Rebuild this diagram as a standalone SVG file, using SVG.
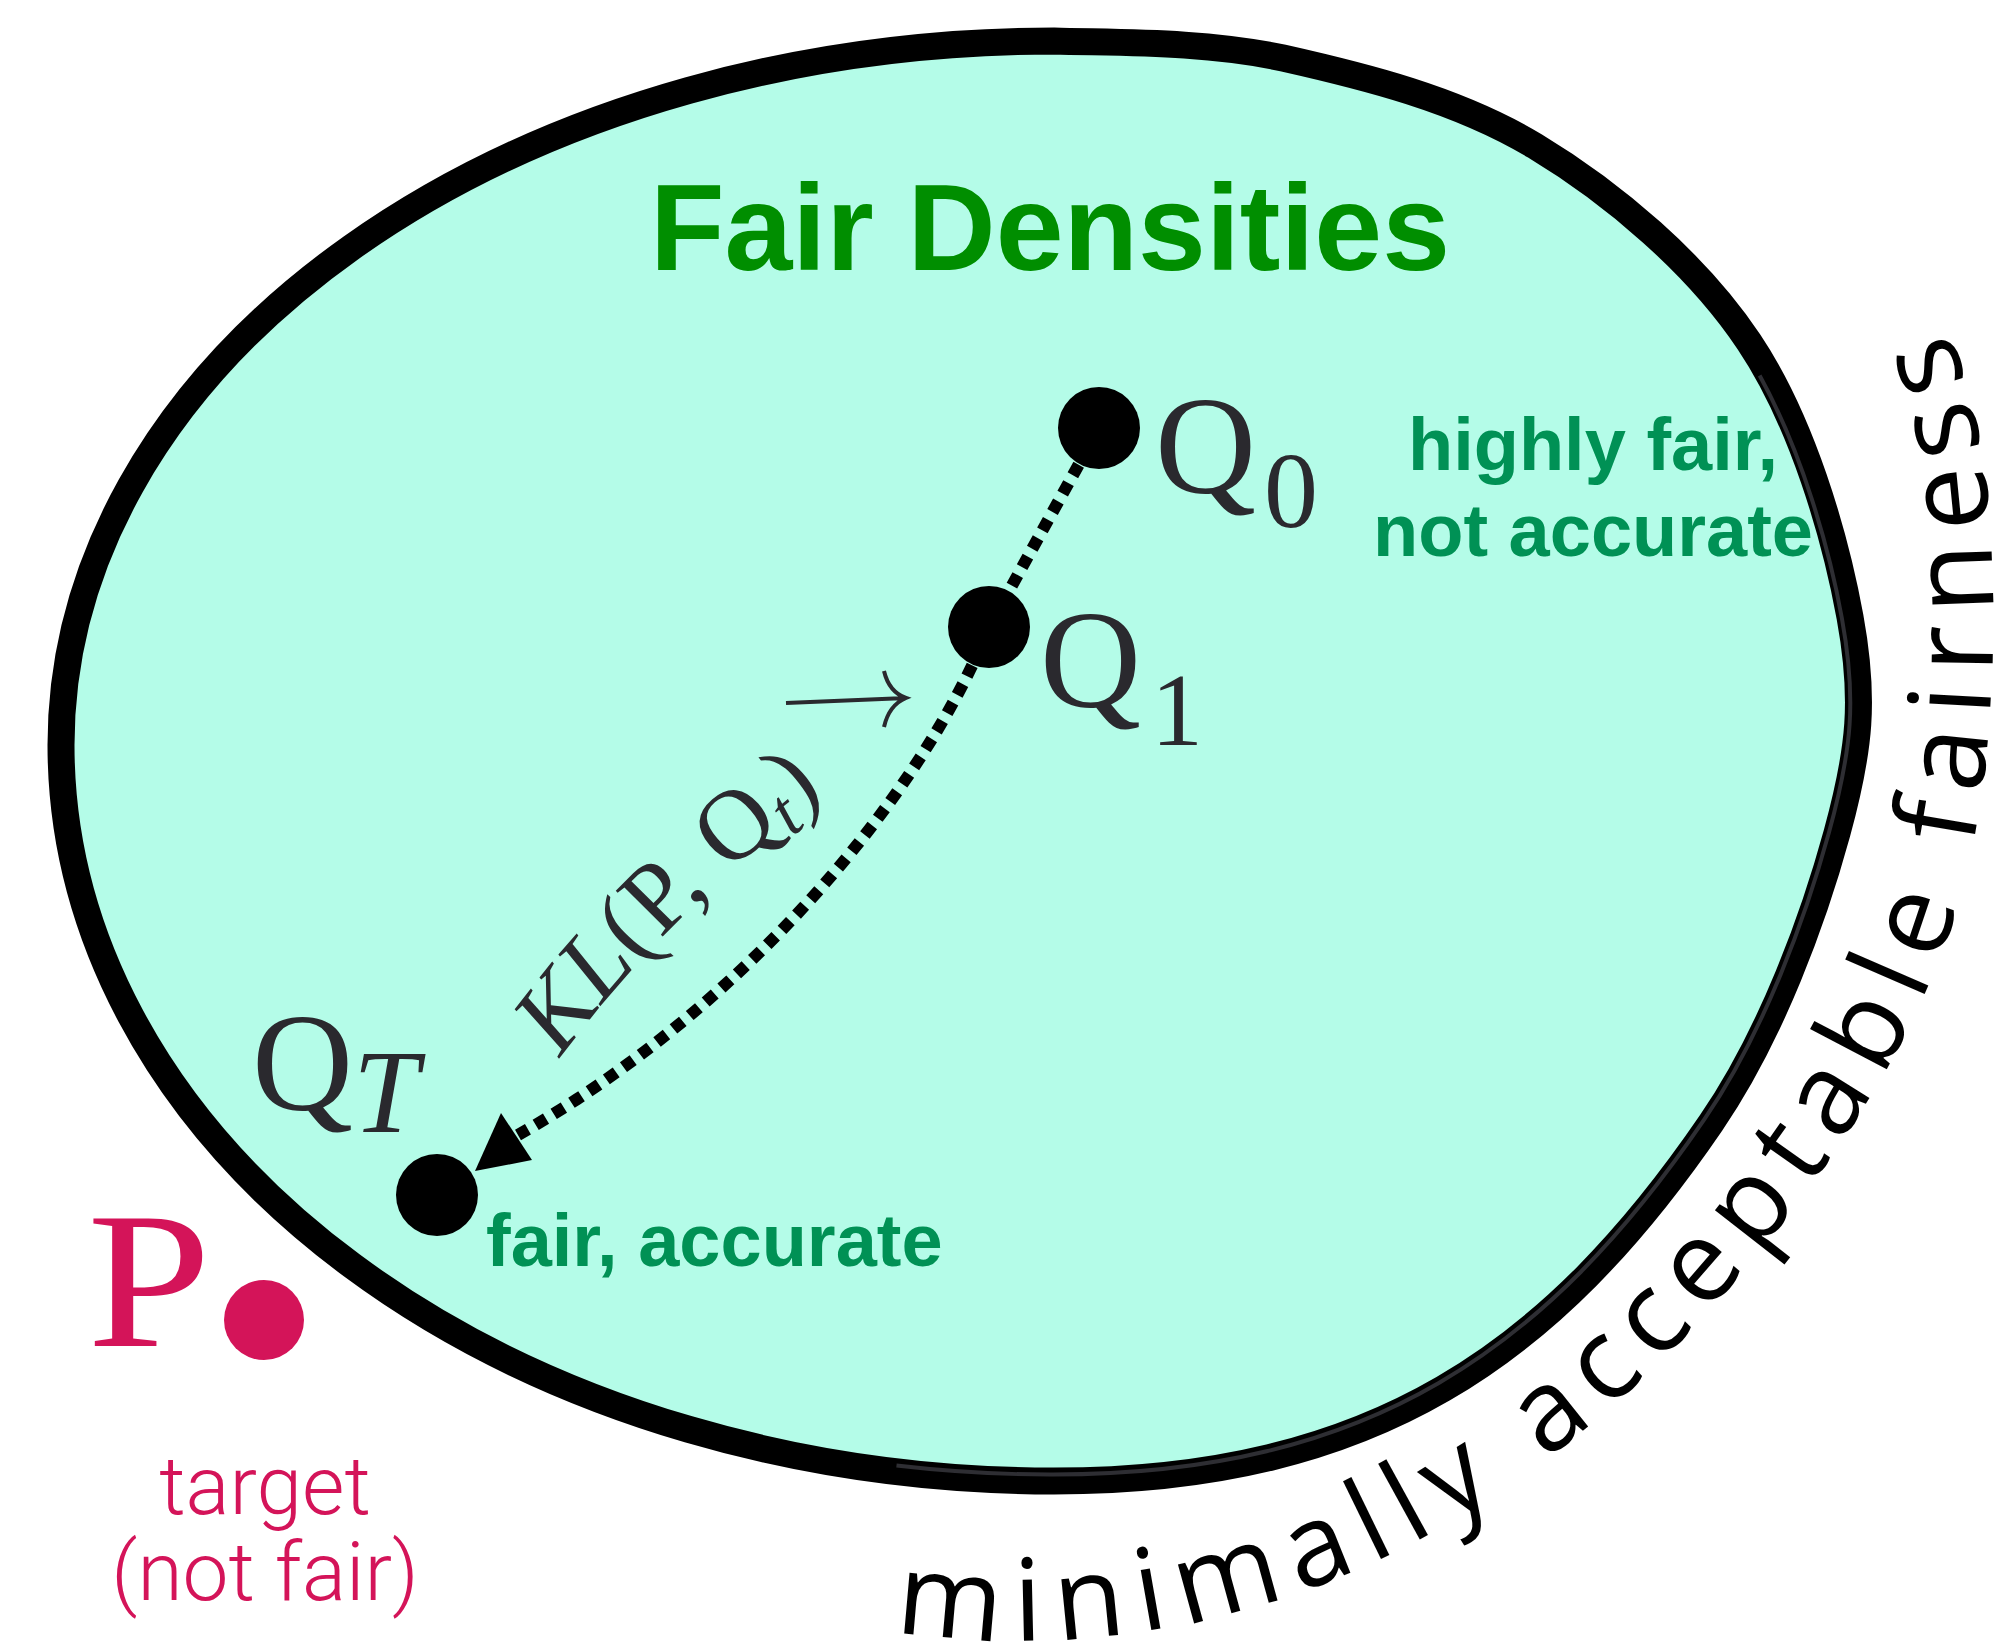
<svg xmlns="http://www.w3.org/2000/svg" width="2015" height="1648" viewBox="0 0 2015 1648">
<defs>
<style>
.math{font-family:"Liberation Serif","Times New Roman",serif;fill:#2a292e}
.lbl{font-family:"Liberation Sans",Arial,sans-serif;font-weight:bold;fill:#009155}
.pink{fill:#d41459}
.dot{fill:#000}
.dotted{fill:none;stroke:#000;stroke-width:12;stroke-dasharray:12 9}
.thin{font-family:Roboto,"Liberation Sans",sans-serif;font-weight:300}
</style>
<path id="fairPath" d="M895,1630 C1000,1650 1150,1645 1300,1592 C1450,1540 1590,1440 1700,1320 C1810,1200 1925,1040 1965,880 C1995,760 2000,600 1985,470 C1975,400 1950,320 1915,250"/>
<path id="klPath" d="M560,1058 Q690,883 885,751"/>
</defs>
<rect width="2015" height="1648" fill="#fff"/>
<g id="region">
<path d="M1054,41 C1118,43 1203,41 1283,58 C1363,76 1457,99 1535,146 C1613,193 1697,264 1749,342 C1802,421 1835,535 1850,617 C1865,699 1860,749 1837,833 C1814,917 1772,1034 1711,1123 C1553,1354 1374,1481 1054,1481 A993,736 0 0 1 61,745 A993,704 0 0 1 1054,41 Z" fill="#b4fce8" stroke="#000" stroke-width="27"/>
<path d="M1767,372 C1809,448 1837,545 1850,617 C1865,699 1860,749 1837,833 C1814,917 1772,1034 1711,1123 C1553,1354 1374,1481 1054,1481 A993,736 0 0 1 896,1472" fill="none" stroke="#2e2e33" stroke-width="4" transform="translate(950 760) scale(0.991) translate(-950 -760)"/>
<text x="1050" y="270" text-anchor="middle" font-family="Liberation Sans, Arial, sans-serif" font-weight="bold" font-size="122" fill="#008e00">Fair Densities</text>
</g>
<g id="connectors">
<path class="dotted" d="M1099,428 L989,627"/>
<path class="dotted" d="M989,627 C920,800 740,1010 518,1135"/>
<polygon points="475,1171 501,1113 532,1160" fill="#000"/>
</g>
<g id="node-q0">
<circle class="dot" cx="1099" cy="428" r="41"/>
<text class="math" x="1155" y="493" font-size="140">Q<tspan font-size="108" dx="8" dy="34">0</tspan></text>
<text class="lbl" x="1593" y="470" font-size="74" text-anchor="middle">highly fair,</text>
<text class="lbl" x="1593" y="556" font-size="74" text-anchor="middle">not accurate</text>
</g>
<g id="node-q1">
<circle class="dot" cx="989" cy="627" r="41"/>
<text class="math" x="1040" y="707" font-size="140">Q<tspan font-size="104" dx="10" dy="38">1</tspan></text>
</g>
<g id="node-qt">
<circle class="dot" cx="437" cy="1195" r="41"/>
<text class="math" x="252" y="1110" font-size="140">Q<tspan font-size="118" font-style="italic" dx="0" dy="22">T</tspan></text>
<text class="lbl" x="486" y="1266" font-size="74">fair, accurate</text>
</g>
<g id="node-p">
<text class="math" x="87" y="1346" font-size="194" style="fill:#d41459" transform="translate(87 0) scale(1.15 1) translate(-87 0)">P</text>
<circle class="pink" cx="264" cy="1320" r="40"/>
<text class="thin pink" x="265" y="1514" font-size="82" text-anchor="middle">target</text>
<text class="thin pink" x="265" y="1600" font-size="82" text-anchor="middle">(not fair)</text>
</g>
<g id="kl-label">
<text class="math" font-size="100"><textPath href="#klPath"><tspan font-style="italic">KL</tspan>(P, Q<tspan font-style="italic" font-size="70" dy="14">t</tspan><tspan dy="-14">)</tspan></textPath></text>
<path d="M786,703 L906,698 M884,671 Q889,692 906,698 Q889,705 884,727" fill="none" stroke="#2a292e" stroke-width="4"/>
</g>
<g id="boundary-label">
<text font-family="Open Sans, Liberation Sans, sans-serif" font-size="114" letter-spacing="14.5" fill="#000"><textPath href="#fairPath">minimally acceptable fairness</textPath></text>
</g>
</svg>
